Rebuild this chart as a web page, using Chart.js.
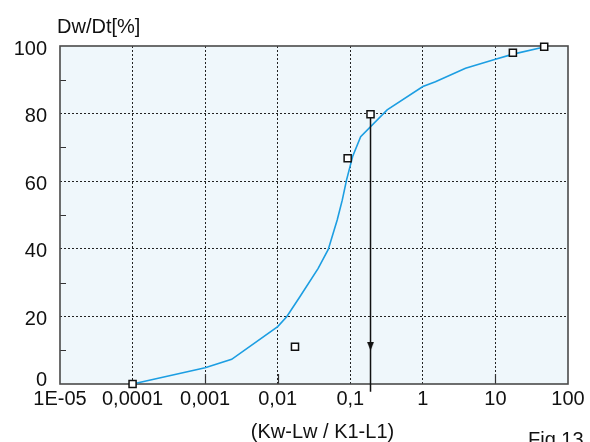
<!DOCTYPE html>
<html><head><meta charset="utf-8">
<script src="https://cdn.jsdelivr.net/npm/chart.js@4.4.1/dist/chart.umd.min.js"></script>
<style>html,body{margin:0;padding:0;background:#fff;}</style>
</head><body>
<canvas id="c" width="590" height="442" style="display:block;width:590px;height:442px"></canvas>
<script>
// ---- data ----
const xTickValues = [1e-5, 1e-4, 1e-3, 1e-2, 1e-1, 1, 10, 100];
const xTickLabels = ['1E-05', '0,0001', '0,001', '0,01', '0,1', '1', '10', '100'];
const yTickValues = [0, 20, 40, 60, 80, 100];
const yTickLabels = ['0', '20', '40', '60', '80', '100'];
const yMinorTicks = [10, 30, 50, 70, 90];
const xInnerTicks = [0.001, 0.01, 10];

const curveX = [0.0001, 0.001, 0.00232, 0.01, 0.0133, 0.0202, 0.0361, 0.0497, 0.066, 0.0775, 0.0889, 0.1077, 0.139, 0.322, 1, 1.49, 3.87, 10, 17.5, 47];
const curveY = [0, 4.8, 7.3, 17, 19.9, 25.8, 34.2, 39.8, 48.5, 54.4, 60.4, 67.3, 73.2, 81.1, 88.0, 89.4, 93.4, 96.1, 97.6, 99.7];

const measX = [0.0001, 0.0173, 0.092, 0.19, 17.4, 47];
const measY = [0, 11, 66.8, 79.8, 98, 99.8];

const arrowX = [0.19, 0.19];
const arrowY = [79.8, -2.3];
const arrowHeadX = [0.19];
const arrowHeadY = [11.2];

const yTitle = 'Dw/Dt[%]';
const xTitle = '(Kw-Lw / K1-L1)';
const figLabel = 'Fig.13';

// ---- helpers ----
const FONT = '"Liberation Sans", Arial, Helvetica, sans-serif';
Chart.defaults.font.family = FONT;
Chart.defaults.font.size = 20;
Chart.defaults.color = '#111';

const pts = (xs, ys) => xs.map((x, i) => ({x: x, y: ys[i]}));

// arrow head image (downward triangle)
const head = document.createElement('canvas');
head.width = 7; head.height = 9;
(function(){ const g = head.getContext('2d'); g.fillStyle = '#111'; g.beginPath(); g.moveTo(0,0); g.lineTo(7,0); g.lineTo(3.5,9); g.closePath(); g.fill(); })();

const decor = {
  id: 'decor',
  beforeDraw(chart) {
    const {ctx, chartArea: a} = chart;
    ctx.save();
    ctx.fillStyle = '#eff7fb';
    ctx.fillRect(a.left, a.top, a.right - a.left, a.bottom - a.top);
    ctx.restore();
  },
  beforeDatasetsDraw(chart) {
    const {ctx, chartArea: a, scales: {x, y}} = chart;
    ctx.save();
    ctx.strokeStyle = '#333';
    ctx.lineWidth = 1.2;
    ctx.beginPath();
    yMinorTicks.forEach(v => { const p = Math.round(y.getPixelForValue(v)) + 0.5; ctx.moveTo(a.left, p); ctx.lineTo(a.left + 6, p); });
    xInnerTicks.forEach(v => { const p = Math.round(x.getPixelForValue(v)) + 0.5; ctx.moveTo(p, a.bottom); ctx.lineTo(p, a.bottom - 10); });
    ctx.stroke();
    ctx.strokeStyle = '#4a4a4a';
    ctx.lineWidth = 1.6;
    ctx.strokeRect(a.left, a.top, a.right - a.left, a.bottom - a.top);
    ctx.restore();
  },
  afterDraw(chart) {
    const {ctx, scales: {y}} = chart;
    ctx.save();
    ctx.fillStyle = '#111';
    ctx.font = '20px ' + FONT;
    // zero label of y axis, lifted so it clears the x labels
    ctx.textAlign = 'right';
    ctx.textBaseline = 'middle';
    ctx.fillText(yTickLabels[0], 47, y.getPixelForValue(yTickValues[0]) - 4);
    ctx.textBaseline = 'alphabetic';
    ctx.textAlign = 'left';
    ctx.fillText(yTitle, 57, 33);
    ctx.textAlign = 'center';
    ctx.fillText(xTitle, 322.5, 438);
    ctx.textAlign = 'left';
    ctx.fillText(figLabel, 528, 446);
    ctx.restore();
  }
};

new Chart(document.getElementById('c'), {
  type: 'line',
  data: {
    datasets: [
      { data: pts(measX, measY), showLine: false, pointStyle: 'rect', pointRadius: 5, pointHoverRadius: 5,
        pointBackgroundColor: '#ffffff', pointBorderColor: '#111', pointBorderWidth: 1.5, clip: false },
      { data: pts(arrowHeadX, arrowHeadY), showLine: false, pointStyle: head, pointRadius: 5, clip: false },
      { data: pts(arrowX, arrowY), borderColor: '#111', borderWidth: 1.5, pointRadius: 0, tension: 0, clip: false },
      { data: pts(curveX, curveY), borderColor: '#1c9ee2', borderWidth: 1.6, pointRadius: 0, tension: 0, clip: false }
    ]
  },
  options: {
    responsive: false,
    animation: false,
    devicePixelRatio: 1,
    layout: { padding: { top: 46, right: 22, left: 0, bottom: 0 } },
    plugins: { legend: { display: false }, tooltip: { enabled: false } },
    scales: {
      x: {
        type: 'logarithmic', min: 1e-5, max: 100,
        afterBuildTicks: s => { s.ticks = xTickValues.map(v => ({value: v})); },
        afterFit: s => { s.height = 58; },
        ticks: { autoSkip: false, maxRotation: 0, minRotation: 0, padding: 3,
          callback: (v, i) => xTickLabels[i] },
        grid: { drawTicks: false, lineWidth: 1,
          color: c => (c.index === 0 || c.index === xTickValues.length - 1) ? 'rgba(0,0,0,0)' : '#222' },
        border: { display: false, dash: [2, 2] }
      },
      y: {
        type: 'linear', min: 0, max: 100,
        afterBuildTicks: s => { s.ticks = yTickValues.map(v => ({value: v})); },
        afterFit: s => { s.width = 60; },
        ticks: { padding: 13, labelOffset: 3, callback: (v, i) => (i === 0 ? '' : yTickLabels[i]) },
        grid: { drawTicks: false, lineWidth: 1,
          color: c => (c.tick && (c.tick.value === 0 || c.tick.value === 100)) ? 'rgba(0,0,0,0)' : '#222' },
        border: { display: false, dash: [2, 2] }
      }
    }
  },
  plugins: [decor]
});
</script>
</body></html>
